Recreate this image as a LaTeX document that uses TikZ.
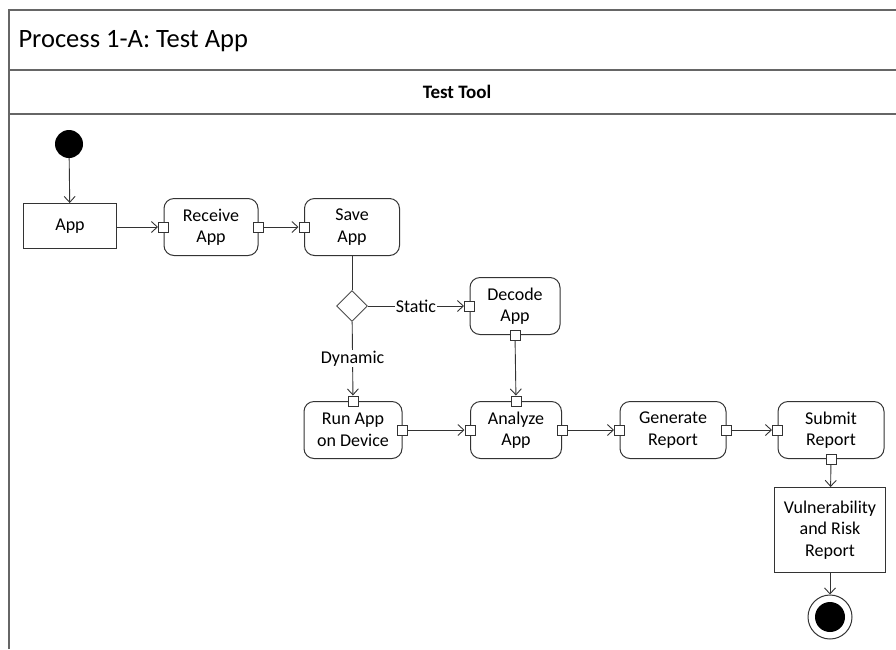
\documentclass[tikz,border=0pt]{standalone}
\usepackage{fontspec}
\setmainfont{Carlito}
\usetikzlibrary{arrows.meta,shapes.geometric,positioning}

\begin{document}
\begin{tikzpicture}[x=1pt, y=-1pt,
  every node/.style={font=\fontsize{18}{21.5}\selectfont},
  frame/.style={draw=black!60, line width=1.4pt},
  action/.style={draw=black!80, line width=1pt, rounded corners=10pt,
    minimum height=57pt, align=center, inner sep=0pt},
  object/.style={draw=black!80, line width=1pt, align=center, inner sep=0pt},
  pin/.style={draw=black!80, fill=white, line width=1pt, minimum size=10pt,
    inner sep=0pt},
  decision/.style={diamond, draw=black!70, fill=white, line width=0.9pt,
    minimum size=31pt, inner sep=0pt},
  flow/.style={draw=black!80, line width=0.9pt,
    -{Straight Barb[length=6pt,width=11pt]}},
  lbl/.style={fill=white, inner sep=1pt}]
  \useasboundingbox (0,0) rectangle (896,649);

  % swimlane frame
  \draw[frame] (9,649) -- (9,10) -- (897,10);
  \draw[frame] (9,70) -- (897,70);
  \draw[frame] (9,114) -- (897,114);
  \node[anchor=west, font=\fontsize{26.5}{30}\selectfont] (title) at (15,41)
    {Process 1-A: Test App};
  \node[font=\fontsize{19}{22}\selectfont\bfseries] (lane) at (457,92) {Test Tool};

  % start / end
  \node[circle, fill=black, minimum size=28pt, inner sep=0pt] (start) at (69,144) {};
  \node[circle, draw=black!80, line width=1pt, minimum size=44pt, inner sep=0pt]
    (end) at (830,617) {};
  \node[circle, fill=black, minimum size=30pt, inner sep=0pt] (endDot) at (end) {};

  % objects
  \node[object, minimum width=93pt, minimum height=45pt] (app) at (70,226) {App};
  \node[object, minimum width=111pt, minimum height=85pt] (vuln) at (830,530)
    {Vulnerability\\and Risk\\Report};

  % actions
  \node[action, minimum width=94pt] (rcv) at (211,227) {Receive\\App};
  \node[action, minimum width=95pt] (save) at (352,227) {Save\\App};
  \node[action, minimum width=90pt] (dcd) at (515,306) {Decode\\App};
  \node[action, minimum width=98pt] (run) at (353,430) {Run App\\on Device};
  \node[action, minimum width=91pt] (ana) at (516,430) {Analyze\\App};
  \node[action, minimum width=106pt] (gen) at (673,430) {Generate\\Report};
  \node[action, minimum width=106pt] (sub) at (831,430) {Submit\\Report};

  \node[decision] (dec) at (352,306) {};

  % pins
  \node[pin] (rcvIn) at (rcv.west) {};
  \node[pin] (rcvOut) at (rcv.east) {};
  \node[pin] (saveIn) at (save.west) {};
  \node[pin] (dcdIn) at (dcd.west) {};
  \node[pin] (dcdOut) at (dcd.south) {};
  \node[pin] (runIn) at (run.north) {};
  \node[pin] (runOut) at (run.east) {};
  \node[pin] (anaTop) at (ana.north) {};
  \node[pin] (anaIn) at (ana.west) {};
  \node[pin] (anaOut) at (ana.east) {};
  \node[pin] (genIn) at (gen.west) {};
  \node[pin] (genOut) at (gen.east) {};
  \node[pin] (subIn) at (sub.west) {};
  \node[pin] (subOut) at (sub.south) {};

  % flows
  \draw[flow] (start) -- (app);
  \draw[flow] (app.east |- rcvIn) -- (rcvIn);
  \draw[flow] (rcvOut) -- (saveIn);
  \draw[draw=black!80, line width=0.9pt] (save) -- (dec);
  \draw[flow] (dec) -- node[lbl] {Static} (dcdIn);
  \draw[flow] (dec) -- node[lbl] {Dynamic} (runIn);
  \draw[flow] (dcdOut) -- (anaTop);
  \draw[flow] (runOut) -- (anaIn);
  \draw[flow] (anaOut) -- (genIn);
  \draw[flow] (genOut) -- (subIn);
  \draw[flow] (subOut) -- (vuln);
  \draw[flow] (vuln) -- (end);
\end{tikzpicture}
\end{document}
